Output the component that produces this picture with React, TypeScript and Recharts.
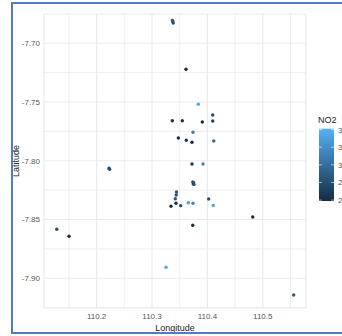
import React from 'react';
import {
    ScatterChart,
    Scatter,
    XAxis,
    YAxis,
    CartesianGrid,
    ReferenceLine,
} from 'recharts';

// station coordinates and NO2 readings
const longitudes = [
    110.3368, 110.3375, 110.3383, 110.3614, 110.3836, 110.4096, 110.3366, 110.3547,
    110.3908, 110.4096, 110.374, 110.3475, 110.3619, 110.3722, 110.4114, 110.3722,
    110.3921, 110.3736, 110.3751, 110.3745, 110.3758, 110.3442, 110.3437, 110.3421,
    110.3433, 110.3343, 110.3518, 110.3655, 110.374, 110.4023, 110.4106, 110.3735,
    110.2224, 110.2235, 110.128, 110.1502, 110.3253, 110.5558, 110.4818,
];
const latitudes = [
    -7.6806, -7.6817, -7.6827, -7.7221, -7.7519, -7.761, -7.7659, -7.7659,
    -7.767, -7.7661, -7.7757, -7.7806, -7.7826, -7.7843, -7.7832, -7.8027,
    -7.8027, -7.818, -7.8187, -7.8197, -7.8201, -7.8266, -7.8291, -7.8323,
    -7.8362, -7.8387, -7.8382, -7.8357, -7.8362, -7.8325, -7.838, -7.8549,
    -7.8063, -7.8072, -7.8583, -7.8643, -7.8906, -7.9142, -7.8478,
];
const no2 = [
    28.5, 28.8, 28.2, 26.0, 33.5, 27.5, 26.2, 26.3,
    26.1, 27.0, 31.0, 26.2, 26.4, 26.0, 29.5, 26.3,
    31.0, 28.0, 28.3, 27.8, 28.1, 28.5, 28.2, 28.6,
    26.0, 26.0, 28.0, 33.0, 31.5, 28.0, 33.0, 26.0,
    27.5, 27.8, 28.0, 26.0, 33.5, 28.5, 26.0,
];

const lonTicks = [110.2, 110.3, 110.4, 110.5];
const lonMinor = [110.15, 110.25, 110.35, 110.45, 110.55];
const latTicks = [-7.9, -7.85, -7.8, -7.75, -7.7];
const latMinor = [-7.925, -7.875, -7.825, -7.775, -7.725, -7.675];
const no2Ticks = [26, 28, 30, 32, 34];

const NO2_MIN = 25.9;
const NO2_MAX = 34.1;
const LOW = [0x13, 0x2b, 0x43];
const HIGH = [0x56, 0xb1, 0xf7];

function no2Color(v: number) {
    const t = Math.max(0, Math.min(1, (v - NO2_MIN) / (NO2_MAX - NO2_MIN)));
    const c = LOW.map((lo, i) => Math.round(lo + (HIGH[i] - lo) * t));
    return `rgb(${c[0]},${c[1]},${c[2]})`;
}

const points = longitudes.map((lon, i) => ({ lon, lat: latitudes[i], no2: no2[i] }));

const W = 342;
const H = 336;
const grid = '#ebebeb';
const font = '"Liberation Sans", Arial, sans-serif';

// colour bar legend
const BAR_X = 319;
const BAR_TOP = 128.7;
const BAR_BOTTOM = 201;
const BAR_W = 15;
const barY = (v: number) =>
    BAR_BOTTOM - ((v - NO2_MIN) / (NO2_MAX - NO2_MIN)) * (BAR_BOTTOM - BAR_TOP);

function ColorBar() {
    return (
        <g>
            <defs>
                <linearGradient id="no2Grad" x1="0" y1="1" x2="0" y2="0">
                    <stop offset="0%" stopColor={no2Color(NO2_MIN)} />
                    <stop offset="50%" stopColor={no2Color((NO2_MIN + NO2_MAX) / 2)} />
                    <stop offset="100%" stopColor={no2Color(NO2_MAX)} />
                </linearGradient>
            </defs>
            <text x={BAR_X - 1} y={123} fontSize={9} fontFamily={font} fill="#222">
                NO2
            </text>
            <rect x={BAR_X} y={BAR_TOP} width={BAR_W} height={BAR_BOTTOM - BAR_TOP} fill="url(#no2Grad)" />
            {no2Ticks.map((v) => (
                <g key={v}>
                    <line x1={BAR_X} x2={BAR_X + 3} y1={barY(v)} y2={barY(v)} stroke="#fff" strokeOpacity={0.6} />
                    <line x1={BAR_X + BAR_W - 3} x2={BAR_X + BAR_W} y1={barY(v)} y2={barY(v)} stroke="#fff" strokeOpacity={0.6} />
                    <text x={BAR_X + BAR_W + 4} y={barY(v) + 3} fontSize={8} fontFamily={font} fill="#555">
                        {v}
                    </text>
                </g>
            ))}
        </g>
    );
}

export default function App() {
    return (
        <div style={{ position: 'absolute', left: 0, top: 0, width: W, height: H, overflow: 'hidden', background: '#fff' }}>
            <ScatterChart width={W} height={H} margin={{ top: 14, right: 36, bottom: 8, left: 0 }}>
                <CartesianGrid stroke={grid} strokeWidth={1.2} />
                {lonMinor.map((v) => (
                    <ReferenceLine key={'x' + v} x={v} stroke={grid} strokeWidth={0.8} />
                ))}
                {latMinor.map((v) => (
                    <ReferenceLine key={'y' + v} y={v} stroke={grid} strokeWidth={0.8} />
                ))}
                <XAxis
                    type="number"
                    dataKey="lon"
                    domain={[110.105, 110.578]}
                    ticks={lonTicks}
                    height={20}
                    axisLine={false}
                    tickLine={false}
                    tickSize={0}
                    tickMargin={5}
                    tick={{ fontSize: 8, fill: '#555', fontFamily: font }}
                    allowDataOverflow
                />
                <YAxis
                    type="number"
                    dataKey="lat"
                    domain={[-7.9253, -7.6751]}
                    ticks={latTicks}
                    width={44}
                    axisLine={false}
                    tickLine={false}
                    tickSize={0}
                    tickMargin={4}
                    tickFormatter={(v: number) => v.toFixed(2)}
                    tick={{ fontSize: 8, fill: '#555', fontFamily: font }}
                    allowDataOverflow
                />
                <Scatter
                    data={points}
                    isAnimationActive={false}
                    shape={(p: any) => (
                        <circle cx={p.cx} cy={p.cy} r={1.7} fill={no2Color(p.payload.no2)} />
                    )}
                />
                <text x={175} y={331} textAnchor="middle" fontSize={9} fontFamily={font} fill="#222">
                    Longitude
                </text>
                <text
                    x={19}
                    y={161}
                    textAnchor="middle"
                    fontSize={9}
                    fontFamily={font}
                    fill="#222"
                    transform="rotate(-90 19 161)"
                >
                    Latitude
                </text>
                <ColorBar />
            </ScatterChart>
            <div
                style={{
                    position: 'absolute',
                    left: 11,
                    top: 2,
                    width: 331,
                    height: 328,
                    borderTop: '2px solid #4f7bc8',
                    borderLeft: '2px solid #4f7bc8',
                    borderBottom: '2px solid #4f7bc8',
                    pointerEvents: 'none',
                }}
            />
        </div>
    );
}
